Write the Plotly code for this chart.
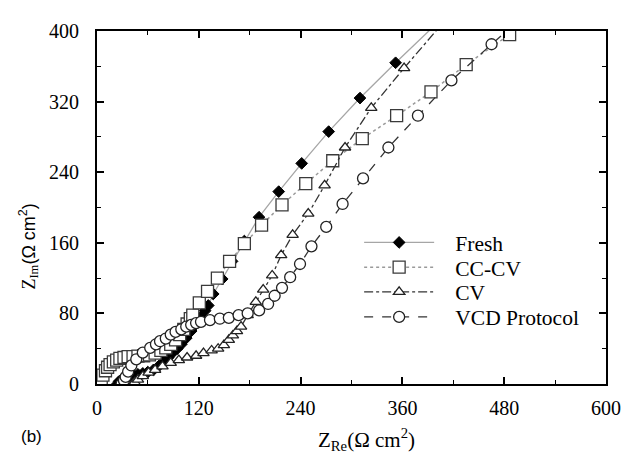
import plotly.graph_objects as go

# ---- data (Z_Re, Z_Im in Ohm cm^2) ----
fresh_x = [24, 26, 29, 32, 35, 38.6, 43.4, 48.3, 54, 59.8, 66.6, 72.4, 78.2, 84, 88.8, 94.6, 99.4, 105.2,
           111, 116.8, 122.6, 127.4, 131.2, 137, 147.6, 159.2, 173.7, 191, 214.2, 241.3, 273.1, 310, 352, 402]
fresh_y = [0, 3, 5, 7, 8, 9, 10, 11, 12, 13.5, 16, 20, 25, 30, 35, 40, 45, 52,
           60, 68, 76, 83, 89, 102, 119, 139, 162, 189, 218, 250, 286, 324, 364, 410]

cccv_x = [3, 5, 7, 10, 12.5, 15.4, 19.3, 23.2, 27, 31.8, 36.7, 42.5, 48.3, 55, 61.8, 68.5, 75.3, 81.1,
          86.9, 92.6, 97.5, 102.3, 106.2, 110, 112.9, 120.6, 130.3, 141.9, 156.3, 173.7, 194, 218.1,
          246.1, 277.9, 312.7, 353.2, 393.7, 435.2, 486.4]
cccv_y = [0, 5, 10, 15, 19, 22, 25, 27, 29, 30, 31, 31, 31.5, 32, 33, 35, 38, 41,
          45, 50, 56, 62, 68, 74, 78, 92, 105, 120, 139, 159, 180, 203,
          227, 253, 278, 304, 331, 362, 396]

cv_x = [42.5, 44.4, 48.3, 54, 60.8, 68.5, 77.2, 86.9, 96.5, 106.2, 116.8, 125.5, 135.1, 142.8, 149.6,
        155.4, 160.2, 165, 169.8, 177.6, 187.2, 195.9, 206.5, 217.1, 230.6, 249, 268.3, 292.4, 323.3,
        362, 404]
cv_y = [0, 2, 5, 9, 13, 16, 20, 24, 27, 30, 32, 35, 38, 40, 44,
        50, 55, 60, 65, 78, 93, 107, 123, 146, 169, 193, 225, 268, 313,
        358, 405]

vcd_x = [29, 31.8, 33.8, 36.7, 40.5, 46.3, 54, 62.7, 69.5, 74.3, 81.1, 86.9, 92.6, 99.4, 105.2, 111,
         116.8, 122.6, 133.2, 144.8, 155.4, 166.9, 177.6, 191.1, 201.7, 209.4, 218.1, 227.7, 239.3,
         252.8, 270.2, 289.5, 313.6, 343.5, 378.3, 417.8, 465.1, 492.2]
vcd_y = [0, 4, 8, 14, 21, 28, 35.6, 41, 45, 48.5, 51.5, 56, 59, 62, 65, 67,
         69, 70.5, 72.4, 74, 75, 78, 80, 83.4, 90.7, 100, 109, 121, 136,
         156, 178, 204, 233, 268, 304, 344, 385, 408]

names = ["Fresh", "CC-CV", "CV", "VCD Protocol"]
x_ticks = [0, 120, 240, 360, 480, 600]
y_ticks = [0, 80, 160, 240, 320, 400]

SERIF = "Liberation Serif, Times New Roman, serif"
SANS = "Liberation Sans, Arial, sans-serif"
GAP = "\u00a0\u00a0\u00a0"

fig = go.Figure()
fig.add_trace(go.Scatter(
    x=fresh_x, y=fresh_y, name=GAP + names[0], mode="lines+markers", legend="legend",
    line=dict(color="#a6a6a6", width=1.3, dash="solid"),
    marker=dict(symbol="diamond", size=9, color="black", line=dict(color="black", width=1))))
fig.add_trace(go.Scatter(
    x=cccv_x, y=cccv_y, name=GAP + names[1], mode="lines+markers", legend="legend2",
    line=dict(color="#9a9a9a", width=1.5, dash="dot"),
    marker=dict(symbol="square", size=12, color="white", line=dict(color="#3a3a3a", width=1.3))))
fig.add_trace(go.Scatter(
    x=cv_x, y=cv_y, name=GAP + names[2], mode="lines+markers", legend="legend3",
    line=dict(color="#333333", width=1.3, dash="dashdot"),
    marker=dict(symbol="triangle-up", size=10, color="white", line=dict(color="#222222", width=1.3))))
fig.add_trace(go.Scatter(
    x=vcd_x, y=vcd_y, name=GAP + names[3], mode="lines+markers", legend="legend4",
    line=dict(color="#333333", width=1.3, dash="dash"),
    marker=dict(symbol="circle", size=11, color="white", line=dict(color="#222222", width=1.3))))

axis_common = dict(
    showgrid=False, zeroline=False, showline=True, linecolor="black", linewidth=2,
    mirror="ticks", ticks="inside", ticklen=7, tickwidth=1.5, tickcolor="black",
    tickfont=dict(family=SERIF, size=20, color="black"),
)
fig.update_xaxes(range=[0, 600], tickvals=x_ticks, ticktext=[str(v) for v in x_ticks],
                 minor=dict(dtick=60, ticks="inside", ticklen=4, tickcolor="black", tickwidth=1),
                 ticklabelstandoff=5, **axis_common)
fig.update_yaxes(range=[0, 400], tickvals=y_ticks, ticktext=[str(v) for v in y_ticks],
                 minor=dict(dtick=40, ticks="inside", ticklen=4, tickcolor="black", tickwidth=1),
                 ticklabelstandoff=12, **axis_common)


def legend_row(y):
    return dict(x=0.515, y=y, xanchor="left", yanchor="middle",
                font=dict(family=SERIF, size=21.5, color="black"),
                itemwidth=70, tracegroupgap=0, bgcolor="rgba(0,0,0,0)")


# the page body adds an 8 px offset, so the figure is 8 px smaller on each axis
fig.update_layout(
    width=625, height=447,
    margin=dict(l=89, r=16, t=12, b=71),
    paper_bgcolor="white", plot_bgcolor="white",
    showlegend=True,
    legend=legend_row(0.401),
    legend2=legend_row(0.331),
    legend3=legend_row(0.261),
    legend4=legend_row(0.190),
    annotations=[
        dict(text="Z<sub>Re</sub>(Ω cm<sup>2</sup>)", xref="paper", yref="paper",
             x=0.529, y=-0.157, xanchor="center", yanchor="middle", showarrow=False,
             font=dict(family=SERIF, size=21, color="black")),
        dict(text="Z<sub>Im</sub><span style='font-family:Liberation Sans, Arial, sans-serif'>(Ω cm<sup>2</sup>)</span>",
             xref="paper", yref="paper", x=-0.135, y=0.39, xanchor="center", yanchor="middle",
             textangle=-90, showarrow=False, font=dict(family=SERIF, size=18, color="black")),
        dict(text="(b)", xref="paper", yref="paper", x=-0.129, y=-0.148, xanchor="center",
             yanchor="middle", showarrow=False, font=dict(family=SANS, size=17, color="black")),
    ],
)

fig.write_html("out.html")
